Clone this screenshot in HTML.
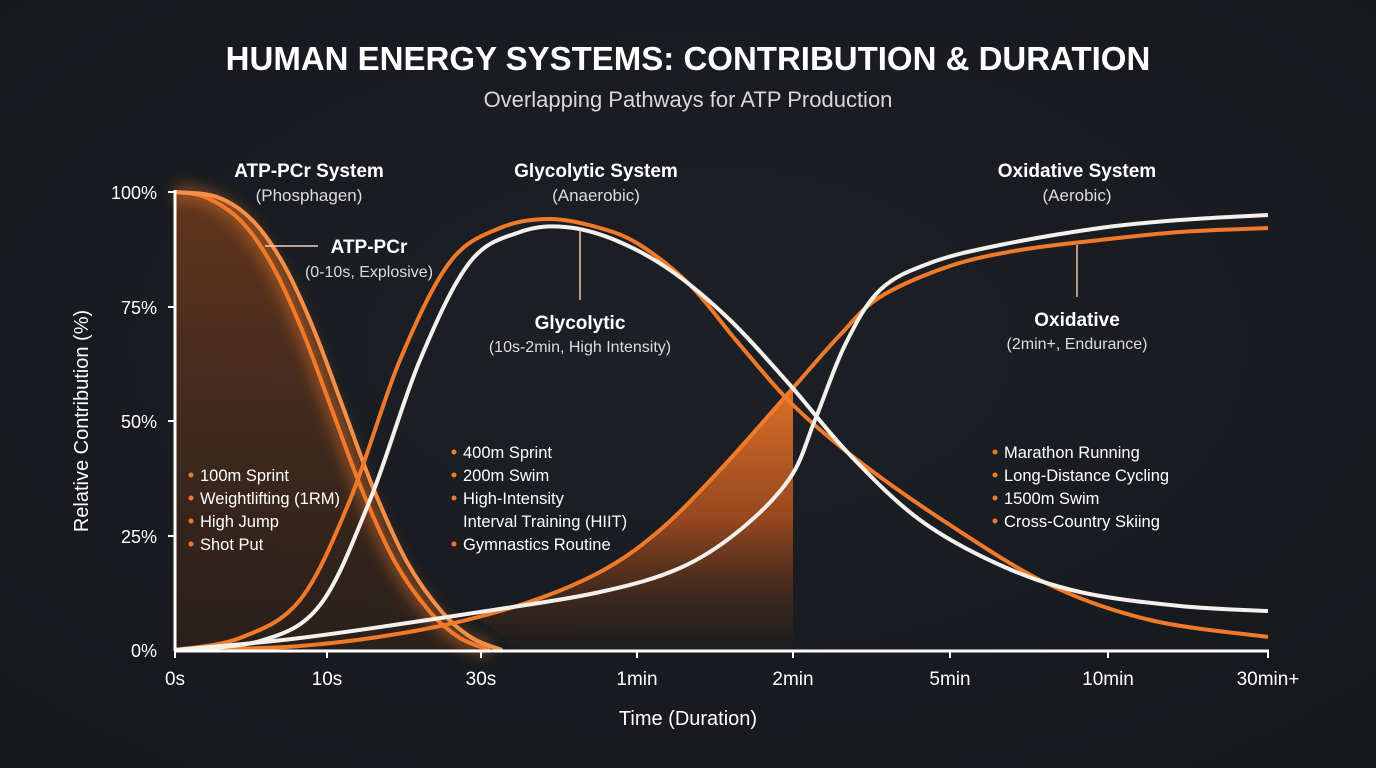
<!DOCTYPE html>
<html><head><meta charset="utf-8"><style>
html,body{margin:0;padding:0;background:#1b1e23;}
svg{display:block}
text{font-family:"Liberation Sans",sans-serif;fill:#fff}
</style></head><body>
<svg id="s" width="1376" height="768" viewBox="0 0 1376 768" xmlns="http://www.w3.org/2000/svg">
<defs>
<radialGradient id="bg" cx="50%" cy="45%" r="70%"><stop offset="0" stop-color="#1d2026"/><stop offset="1" stop-color="#16181c"/></radialGradient>
<linearGradient id="atpf" x1="0" y1="0" x2="0" y2="1"><stop offset="0" stop-color="#7a3f1c" stop-opacity="0.75"/><stop offset="1" stop-color="#3a2418" stop-opacity="0.5"/></linearGradient>
<linearGradient id="oxf" x1="0" y1="0" x2="0" y2="1"><stop offset="0" stop-color="#f07a2a" stop-opacity="0.9"/><stop offset="0.5" stop-color="#c0561c" stop-opacity="0.75"/><stop offset="1" stop-color="#2a1f1a" stop-opacity="0.3"/></linearGradient>
<filter id="glow" x="-20%" y="-20%" width="140%" height="140%"><feGaussianBlur stdDeviation="6"/></filter>
</defs>
<rect width="1376" height="768" fill="url(#bg)"/>
<text x="688" y="70" text-anchor="middle" font-size="33" font-weight="bold">HUMAN ENERGY SYSTEMS: CONTRIBUTION &amp; DURATION</text>
<text x="688" y="107" text-anchor="middle" font-size="22" style="fill:#d8d8d8">Overlapping Pathways for ATP Production</text>

<g id="fills"></g>
<g id="lines"></g>

<line x1="175" y1="190" x2="175" y2="651" stroke="#fff" stroke-width="3"/>
<line x1="174" y1="651" x2="1269" y2="651" stroke="#fff" stroke-width="3"/>
<g stroke="#fff" stroke-width="2">
<line x1="175" y1="651" x2="175" y2="658"/><line x1="327" y1="651" x2="327" y2="658"/><line x1="481" y1="651" x2="481" y2="658"/><line x1="637" y1="651" x2="637" y2="658"/><line x1="793" y1="651" x2="793" y2="658"/><line x1="950" y1="651" x2="950" y2="658"/><line x1="1108" y1="651" x2="1108" y2="658"/><line x1="1268" y1="651" x2="1268" y2="658"/>
<line x1="168" y1="192" x2="175" y2="192"/><line x1="168" y1="307" x2="175" y2="307"/><line x1="168" y1="421" x2="175" y2="421"/><line x1="168" y1="536" x2="175" y2="536"/>
</g>
<g font-size="18" text-anchor="end">
<text x="157" y="199">100%</text><text x="157" y="314">75%</text><text x="157" y="428">50%</text><text x="157" y="543">25%</text><text x="157" y="657">0%</text>
</g>
<g font-size="19" text-anchor="middle">
<text x="175" y="685">0s</text><text x="327" y="685">10s</text><text x="481" y="685">30s</text><text x="637" y="685">1min</text><text x="793" y="685">2min</text><text x="950" y="685">5min</text><text x="1108" y="685">10min</text><text x="1268" y="685">30min+</text>
</g>
<text x="688" y="725" text-anchor="middle" font-size="20">Time (Duration)</text>
<text transform="translate(88,421) rotate(-90)" text-anchor="middle" font-size="20">Relative Contribution (%)</text>

<g text-anchor="middle">
<text x="309" y="177" font-size="19" font-weight="bold">ATP-PCr System</text>
<text x="309" y="201" font-size="17" style="fill:#ddd">(Phosphagen)</text>
<text x="596" y="177" font-size="19" font-weight="bold">Glycolytic System</text>
<text x="596" y="201" font-size="17" style="fill:#ddd">(Anaerobic)</text>
<text x="1077" y="177" font-size="19" font-weight="bold">Oxidative System</text>
<text x="1077" y="201" font-size="17" style="fill:#ddd">(Aerobic)</text>
</g>
<line x1="265" y1="246" x2="318" y2="246" stroke="#f0d0b8" stroke-width="1.5"/>
<text x="369" y="253" text-anchor="middle" font-size="19" font-weight="bold">ATP-PCr</text>
<text x="369" y="277" text-anchor="middle" font-size="16" style="fill:#ddd">(0-10s, Explosive)</text>
<line x1="580" y1="230" x2="580" y2="300" stroke="#f0c0a0" stroke-width="1.5"/>
<text x="580" y="329" text-anchor="middle" font-size="19" font-weight="bold">Glycolytic</text>
<text x="580" y="352" text-anchor="middle" font-size="16" style="fill:#ddd">(10s-2min, High Intensity)</text>
<line x1="1077" y1="245" x2="1077" y2="297" stroke="#f0c0a0" stroke-width="1.5"/>
<text x="1077" y="326" text-anchor="middle" font-size="19" font-weight="bold">Oxidative</text>
<text x="1077" y="349" text-anchor="middle" font-size="16" style="fill:#ddd">(2min+, Endurance)</text>

<g font-size="16.5">
<text x="200" y="481">100m Sprint</text><text x="200" y="504">Weightlifting (1RM)</text><text x="200" y="527">High Jump</text><text x="200" y="550">Shot Put</text>
<text x="463" y="458">400m Sprint</text><text x="463" y="481">200m Swim</text><text x="463" y="504">High-Intensity</text><text x="463" y="527">Interval Training (HIIT)</text><text x="463" y="550">Gymnastics Routine</text>
<text x="1004" y="458">Marathon Running</text><text x="1004" y="481">Long-Distance Cycling</text><text x="1004" y="504">1500m Swim</text><text x="1004" y="527">Cross-Country Skiing</text>
</g>
<g fill="#f07a2a">
<circle cx="191" cy="475" r="2.5"/><circle cx="191" cy="498" r="2.5"/><circle cx="191" cy="521" r="2.5"/><circle cx="191" cy="544" r="2.5"/>
<circle cx="454" cy="452" r="2.5"/><circle cx="454" cy="475" r="2.5"/><circle cx="454" cy="498" r="2.5"/><circle cx="454" cy="544" r="2.5"/>
<circle cx="995" cy="452" r="2.5"/><circle cx="995" cy="475" r="2.5"/><circle cx="995" cy="498" r="2.5"/><circle cx="995" cy="521" r="2.5"/>
</g>
</svg>
<script>
function path(p){var d="M"+p[0][0]+","+p[0][1];for(var i=0;i<p.length-1;i++){var a=p[i-1]||p[i],b=p[i],c=p[i+1],e=p[i+2]||c;var c1=[b[0]+(c[0]-a[0])/6,b[1]+(c[1]-a[1])/6],c2=[c[0]-(e[0]-b[0])/6,c[1]-(e[1]-b[1])/6];d+=" C"+c1[0].toFixed(1)+","+c1[1].toFixed(1)+" "+c2[0].toFixed(1)+","+c2[1].toFixed(1)+" "+c[0]+","+c[1];}return d;}
var NS="http://www.w3.org/2000/svg";
function add(g,d,attrs){var e=document.createElementNS(NS,"path");e.setAttribute("d",d);for(var k in attrs)e.setAttribute(k,attrs[k]);document.getElementById(g).appendChild(e);}
var atp1=[[175,192],[205,197],[240,220],[272,265],[302,330],[332,410],[362,490],[395,562],[430,612],[460,638],[490,650]];
var atp2=atp1.map(function(p,i){return i==0?p:[p[0]+12,p[1]]});
var gO=[[175,650],[240,638],[300,600],[350,500],[400,360],[450,262],[500,228],[550,219],[600,228],[640,245],[690,285],[740,345],[793,405],[860,462],[950,525],[1050,585],[1150,620],[1268,637]];
var gW=[[175,650],[260,641],[320,605],[370,500],[420,360],[470,262],[520,232],[565,227],[615,240],[670,270],[730,320],[790,385],[850,455],[920,520],[1000,565],[1080,592],[1180,606],[1268,611]];
var oO=[[175,650],[300,646],[420,630],[520,605],[600,572],[660,530],[720,470],[793,388],[840,335],[880,297],[950,266],[1020,250],[1100,240],[1180,232],[1268,228]];
var oW=[[175,650],[300,638],[480,612],[600,592],[680,568],[740,530],[790,478],[815,420],[845,345],[880,290],[930,263],[1000,245],[1100,228],[1180,220],[1268,215]];
add("fills",path(atp2)+" L175,650 Z",{fill:"url(#atpf)"});
add("fills",path(atp1),{fill:"none",stroke:"#f07a2a","stroke-width":18,"stroke-opacity":0.35,filter:"url(#glow)"});
var oCut=oO.filter(function(p){return p[0]>=480&&p[0]<=793});
add("fills",path([[480,620]].concat(oCut))+" L793,650 L520,650 Z",{fill:"url(#oxf)"});
add("lines",path(atp1),{fill:"none",stroke:"#f07a2a","stroke-width":4});
add("lines",path(atp2),{fill:"none",stroke:"#f5904a","stroke-width":4});
add("lines",path(gO),{fill:"none",stroke:"#f07a2a","stroke-width":4});
add("lines",path(oO),{fill:"none",stroke:"#f07a2a","stroke-width":4});
add("lines",path(gW),{fill:"none",stroke:"#f4f0ec","stroke-width":4});
add("lines",path(oW),{fill:"none",stroke:"#f4f0ec","stroke-width":4});
</script>
</body></html>
